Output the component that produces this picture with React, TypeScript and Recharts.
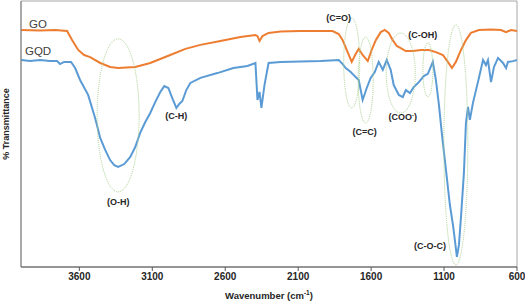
import React from "react";
import {
  LineChart,
  Line,
  XAxis,
  YAxis,
  ReferenceArea,
  ReferenceDot,
} from "recharts";

// wavenumber (cm-1) and % transmittance
const goWavenumber = [
  4000, 3869, 3766, 3684, 3650, 3608, 3567, 3526, 3457, 3389, 3334, 3217, 3114, 2977, 2873, 2770,
  2633, 2496, 2393, 2379, 2365, 2345, 2303, 2221, 2084, 1864, 1822, 1795, 1761, 1733, 1706, 1685,
  1658, 1623, 1596, 1568, 1534, 1507, 1479, 1452, 1424, 1397, 1362, 1314, 1259, 1204, 1156, 1108,
  1074, 1046, 1019, 984, 950, 916, 861, 778, 710, 675, 641, 600,
];
const goTransmittance = [
  89.1, 88.9, 89.1, 88.7, 85.3, 81.6, 79.7, 78.9, 76.7, 75.2, 74.8, 75.2, 76.7, 79.7, 82.0, 83.5,
  85.0, 86.5, 87.2, 86.8, 85.0, 86.8, 88.0, 88.5, 88.7, 88.7, 87.6, 85.3, 80.8, 77.1, 80.1, 82.0,
  79.7, 77.4, 81.6, 85.3, 88.3, 89.1, 88.0, 85.3, 83.1, 82.3, 81.2, 81.2, 81.6, 81.6, 80.8, 79.7,
  77.1, 74.8, 77.1, 81.6, 85.3, 88.0, 89.1, 89.3, 89.1, 88.3, 89.1, 88.7,
];

const gqdWavenumber = [
  4000, 3938, 3869, 3801, 3753, 3732, 3705, 3657, 3629, 3595, 3540, 3492, 3457, 3423, 3389, 3361,
  3334, 3292, 3251, 3217, 3183, 3148, 3114, 3080, 3045, 3018, 2990, 2963, 2935, 2915, 2894, 2867,
  2839, 2770, 2654, 2544, 2448, 2393, 2379, 2365, 2352, 2331, 2303, 2221, 2084, 1946, 1822, 1795,
  1774, 1740, 1706, 1685, 1658, 1630, 1603, 1575, 1548, 1520, 1493, 1466, 1445, 1410, 1383, 1362,
  1334, 1307, 1273, 1239, 1211, 1177, 1156, 1135, 1114, 1087, 1060, 1039, 1026, 1012, 998, 984,
  964, 950, 936, 923, 902, 881, 861, 833, 813, 799, 778, 758, 730, 696, 675, 662, 627, 600,
];
const gqdTransmittance = [
  77.8, 77.4, 77.8, 77.4, 77.4, 76.3, 77.1, 77.1, 74.8, 70.3, 64.7, 56.0, 48.5, 44.0, 40.2, 38.3,
  37.6, 38.7, 41.4, 45.1, 50.4, 54.5, 57.9, 62.0, 65.8, 68.0, 67.3, 63.5, 59.8, 61.3, 62.4, 66.5,
  69.2, 71.1, 72.9, 74.8, 75.6, 76.7, 62.8, 65.8, 59.8, 68.4, 76.7, 77.1, 77.3, 77.4, 77.8, 76.3,
  74.8, 73.3, 71.4, 70.3, 62.8, 67.3, 71.1, 73.3, 77.1, 74.1, 77.8, 74.1, 68.4, 64.7, 63.9, 66.5,
  65.4, 67.7, 69.5, 71.8, 72.6, 77.1, 70.3, 60.9, 49.6, 36.5, 23.3, 15.8, 10.2, 3.8, 8.3, 18.8,
  35.3, 54.1, 60.2, 55.3, 61.7, 66.5, 71.1, 77.8, 75.9, 77.8, 69.5, 75.2, 78.6, 76.7, 74.8, 77.1,
  77.4, 77.8,
];

const xTicks = [3600, 3100, 2600, 2100, 1600, 1100, 600];

// band assignments: ellipse centre and label anchor
const bandNames = ["(O-H)", "(C-H)", "(C=O)", "(C=C)", "(COO)", "(C-OH)", "(C-O-C)"];
const bandCentre = [3334, null, 1733, 1637, 1397, 1211, 1019];
const bandCentreT = [57.0, null, 76.7, 70.3, 72.9, 74.1, 45.9];
const bandRx = [21, 0, 8, 7.5, 14.5, 5, 12];
const bandRy = [76.5, 0, 45, 43, 40, 27, 120];
const labelWavenumber = [3334, 2935, 1822, 1644, 1383, 1246, 1197];
const labelT = [24.1, 56.4, 93.2, 50.4, 56.0, 86.8, 7.5];

const goData = goWavenumber.map((w, i) => ({ w, t: goTransmittance[i] }));
const gqdData = gqdWavenumber.map((w, i) => ({ w, t: gqdTransmittance[i] }));

const FONT = "'Liberation Sans', Arial, sans-serif";

const YTitle = ({ viewBox }: any) => {
  const x = viewBox.x + 7;
  const y = viewBox.y + viewBox.height / 2 - 10;
  return (
    <text
      x={x}
      y={y}
      transform={`rotate(-90, ${x}, ${y})`}
      textAnchor="middle"
      dominantBaseline="middle"
      fontFamily={FONT}
      fontSize={9}
      fontWeight="bold"
      fill="#262626"
    >
      % Transmittance
    </text>
  );
};

const XTitle = ({ viewBox }: any) => (
  <text
    x={viewBox.x + viewBox.width / 2}
    y={296}
    textAnchor="middle"
    dominantBaseline="middle"
    fontFamily={FONT}
    fontSize={9.5}
    fontWeight="bold"
    fill="#262626"
  >
    Wavenumber (cm
    <tspan fontSize={6.5} dy={-3}>-1</tspan>
    <tspan dy={3}>)</tspan>
  </text>
);

export default function App() {
  return (
    <div style={{ position: "absolute", left: 0, top: 0, background: "#fff" }}>
      <LineChart width={525} height={303} margin={{ top: 1, right: 8, left: 0, bottom: 0 }}>
        <XAxis
          dataKey="w"
          type="number"
          domain={[600, 4000]}
          reversed
          ticks={xTicks}
          allowDataOverflow
          height={36}
          tickSize={4}
          stroke="#595959"
          tick={{ fill: "#262626", fontSize: 10, fontWeight: "bold", fontFamily: FONT }}
          label={{ content: XTitle }}
        />
        <YAxis
          type="number"
          domain={[0, 100]}
          width={21}
          tick={false}
          tickLine={false}
          stroke="#7f7f7f"
          label={{ content: YTitle }}
        />
        <ReferenceArea
          x1={4000}
          x2={600}
          y1={0}
          y2={100}
          fill="none"
          stroke="#a6a6a6"
          strokeWidth={1}
          fillOpacity={0}
        />
        {bandNames.map((name, i) =>
          bandCentre[i] == null ? null : (
            <ReferenceDot
              key={"e" + name}
              x={bandCentre[i] as number}
              y={bandCentreT[i] as number}
              shape={(p: any) => (
                <ellipse
                  cx={p.cx}
                  cy={p.cy}
                  rx={bandRx[i]}
                  ry={bandRy[i]}
                  fill="none"
                  stroke="#a9d18e"
                  strokeWidth={1}
                  strokeDasharray="1 1"
                />
              )}
            />
          )
        )}
        <Line
          data={goData}
          dataKey="t"
          type="linear"
          stroke="#ed7d31"
          strokeWidth={2}
          dot={false}
          isAnimationActive={false}
        />
        <Line
          data={gqdData}
          dataKey="t"
          type="linear"
          stroke="#5b9bd5"
          strokeWidth={2}
          dot={false}
          isAnimationActive={false}
        />
        {bandNames.map((name, i) => (
          <ReferenceDot
            key={"l" + name}
            x={labelWavenumber[i]}
            y={labelT[i]}
            shape={(p: any) => (
              <text
                x={p.cx}
                y={p.cy}
                textAnchor="middle"
                dominantBaseline="middle"
                fontFamily={FONT}
                fontSize={9}
                fontWeight="bold"
                fill="#262626"
              >
                {name === "(COO)" ? (
                  <>
                    (COO
                    <tspan fontSize={6} dy={-3}>-</tspan>
                    <tspan dy={3}>)</tspan>
                  </>
                ) : (
                  name
                )}
              </text>
            )}
          />
        ))}
        <ReferenceDot
          x={3883}
          y={91}
          shape={(p: any) => (
            <text x={p.cx} y={p.cy} textAnchor="middle" dominantBaseline="middle" fontFamily={FONT} fontSize={11.5} fill="#404040">
              GO
            </text>
          )}
        />
        <ReferenceDot
          x={3883}
          y={80.8}
          shape={(p: any) => (
            <text x={p.cx} y={p.cy} textAnchor="middle" dominantBaseline="middle" fontFamily={FONT} fontSize={11.5} fill="#404040">
              GQD
            </text>
          )}
        />
      </LineChart>
    </div>
  );
}
